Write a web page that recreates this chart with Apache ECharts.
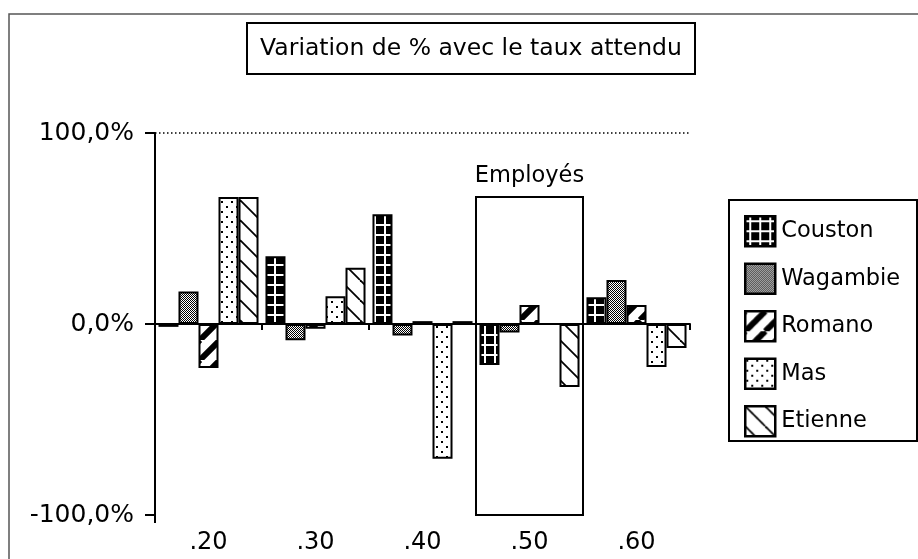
<!DOCTYPE html>
<html><head><meta charset="utf-8">
<script src="https://cdn.jsdelivr.net/npm/echarts@6/dist/echarts.min.js"></script>
<style>html,body{margin:0;padding:0;background:#fff}#c{width:918px;height:559px}</style>
</head><body><div id="c"></div>
<script>
// ---- data ----
const categories = ['.20', '.30', '.40', '.50', '.60'];
const seriesNames = ['Couston', 'Wagambie', 'Romano', 'Mas', 'Etienne'];
const couston  = [-1.5, 35.5, 57.5, -21.5, 14];
const wagambie = [17, -8.5, -6, -4.5, 23];
const romano   = [-23, -2.5, 1.5, 10, 10];
const mas      = [66.5, 14.5, -70.5, 0, -22.5];
const etienne  = [66.5, 29.5, 1.5, -33, -12.5];
const yMin = -100, yMax = 100, yInterval = 100;
const titleText = 'Variation de % avec le taux attendu';
const annotLabel = 'Employés';
const annotCategory = '.50';
const annotTop = 66.5;

const FONT = 'DejaVu Sans';

function tile(w, h, draw) {
  const c = document.createElement('canvas');
  c.width = w; c.height = h;
  const g = c.getContext('2d');
  draw(g, w, h);
  return { image: c, repeat: 'repeat' };
}
const patterns = {
  Couston: tile(10, 10, (g, w, h) => {
    g.fillStyle = '#000'; g.fillRect(0, 0, w, h);
    g.fillStyle = '#fff';
    g.fillRect(4, 0, 2, h);
    g.fillRect(0, 4, w, 2);
  }),
  Wagambie: tile(2, 2, (g) => {
    g.fillStyle = '#fff'; g.fillRect(0, 0, 2, 2);
    g.fillStyle = '#000'; g.fillRect(0, 0, 1, 1); g.fillRect(1, 1, 1, 1);
  }),
  Romano: tile(20, 20, (g, w, h) => {
    g.fillStyle = '#fff'; g.fillRect(0, 0, w, h);
    g.strokeStyle = '#000'; g.lineWidth = 6;
    for (let o = -20; o <= 20; o += 20) {
      g.beginPath(); g.moveTo(o, h); g.lineTo(o + w, 0); g.stroke();
    }
  }),
  Mas: tile(10, 10, (g, w, h) => {
    g.fillStyle = '#fff'; g.fillRect(0, 0, w, h);
    g.fillStyle = '#000';
    g.fillRect(1, 1, 2, 2); g.fillRect(6, 6, 2, 2);
  }),
  Etienne: tile(20, 20, (g, w, h) => {
    g.fillStyle = '#fff'; g.fillRect(0, 0, w, h);
    g.strokeStyle = '#000'; g.lineWidth = 1.8;
    for (let o = -20; o <= 20; o += 20) {
      g.beginPath(); g.moveTo(o, 0); g.lineTo(o + w, h); g.stroke();
    }
  })
};

const dataBySeries = [couston, wagambie, romano, mas, etienne];

const chart = echarts.init(document.getElementById('c'), null, { renderer: 'canvas' });

const series = seriesNames.map((name, i) => ({
  name,
  type: 'bar',
  data: dataBySeries[i],
  barGap: '0%',
  barCategoryGap: '6.5%',
  itemStyle: { color: patterns[name], borderColor: '#000', borderWidth: 2 },
  emphasis: { disabled: true },
  animation: false
}));
series[0].markLine = {
  silent: true,
  symbol: ['none', 'none'],
  label: { show: false },
  data: [
    { yAxis: 0, lineStyle: { color: '#000', width: 2, type: 'solid' } },
    { yAxis: yMax, lineStyle: { color: '#000', width: 1.5, type: [1.5, 2.5] } }
  ],
  animation: false
};

function staticGraphics() {
  return [
    { type: 'rect', shape: { x: 9, y: 14, width: 1000, height: 1000 }, style: { fill: null, stroke: '#555', lineWidth: 1.5 }, silent: true, z: 0 },
    { type: 'rect', shape: { x: 247, y: 23, width: 448, height: 51 }, style: { fill: '#fff', stroke: '#000', lineWidth: 2 }, silent: true, z: 10 },
    { type: 'text', x: 471, y: 49, style: { text: titleText, fill: '#000', font: '23.5px "DejaVu Sans"', align: 'center', verticalAlign: 'middle' }, silent: true, z: 11 },
    { type: 'rect', shape: { x: 729, y: 200, width: 188, height: 241 }, style: { fill: null, stroke: '#000', lineWidth: 2 }, silent: true, z: 10 }
  ];
}

chart.setOption({
  animation: false,
  backgroundColor: '#fff',
  textStyle: { fontFamily: FONT },
  grid: { left: 155, right: 228, top: 133, bottom: 44 },
  xAxis: {
    type: 'category',
    data: categories,
    boundaryGap: true,
    axisLine: { lineStyle: { color: '#000', width: 2 } },
    axisTick: { show: true, interval: 0, length: 6, lineStyle: { color: '#000', width: 2 } },
    axisLabel: { color: '#000', fontSize: 24, fontFamily: FONT, margin: 16 },
    splitLine: { show: false }
  },
  yAxis: {
    type: 'value',
    min: yMin, max: yMax, interval: yInterval,
    axisLine: { show: true, lineStyle: { color: '#000', width: 2 } },
    axisTick: { show: true, length: 10, lineStyle: { color: '#000', width: 2 } },
    axisLabel: {
      color: '#000', fontSize: 25, fontFamily: FONT, margin: 21,
      formatter: v => v.toFixed(1).replace('.', ',') + '%'
    },
    splitLine: { show: false }
  },
  legend: {
    orient: 'vertical',
    left: 744, top: 215,
    padding: 0,
    itemWidth: 30, itemHeight: 30, itemGap: 15,
    icon: 'rect',
    itemStyle: { borderWidth: 2.5, borderColor: '#000' },
    textStyle: { color: '#000', fontSize: 22.5, fontFamily: FONT, padding: [0, 0, 0, 1] },
    data: seriesNames,
    selectedMode: false
  },
  series,
  graphic: staticGraphics()
});

// annotation box around the annotated category, positioned via axis scales
const cx = chart.convertToPixel({ xAxisIndex: 0 }, annotCategory);
const cxPrev = chart.convertToPixel({ xAxisIndex: 0 }, categories[categories.indexOf(annotCategory) - 1]);
const half = (cx - cxPrev) / 2;
const yTop = chart.convertToPixel({ yAxisIndex: 0 }, annotTop);
const yBot = chart.convertToPixel({ yAxisIndex: 0 }, yMin);
const yAxisX = chart.convertToPixel({ xAxisIndex: 0 }, categories[0]) - half;
chart.setOption({
  graphic: staticGraphics().concat([
    { type: 'rect', shape: { x: cx - half, y: yTop, width: half * 2, height: yBot - yTop }, style: { fill: null, stroke: '#000', lineWidth: 2 }, silent: true, z: 5 },
    { type: 'text', x: cx, y: yTop - 9, style: { text: annotLabel, fill: '#000', font: '22.5px "DejaVu Sans"', align: 'center', verticalAlign: 'bottom' }, silent: true, z: 11 },
    { type: 'line', shape: { x1: yAxisX, y1: yBot, x2: yAxisX, y2: yBot + 8 }, style: { stroke: '#000', lineWidth: 2 }, silent: true, z: 5 }
  ])
}, { replaceMerge: ['graphic'] });
</script>
</body></html>
